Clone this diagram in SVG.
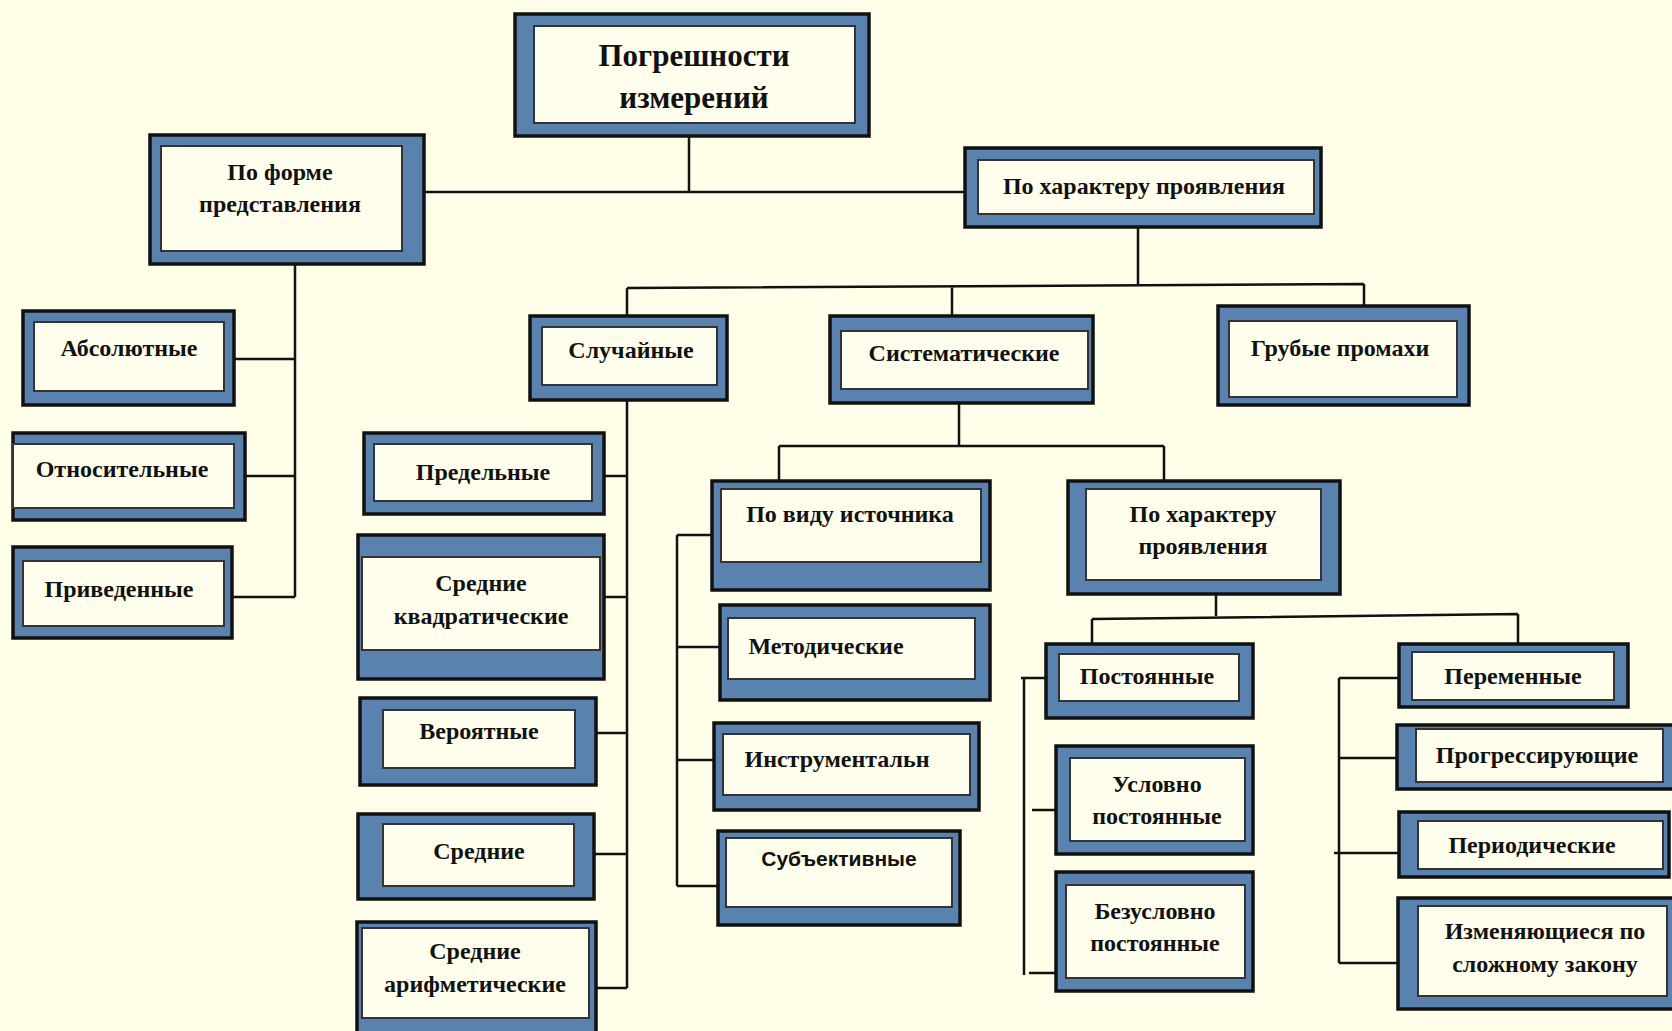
<svg xmlns="http://www.w3.org/2000/svg" width="1672" height="1031" viewBox="0 0 1672 1031">
<style>
.o{fill:#5A82AE;stroke:#111;stroke-width:3.5}
.i{fill:#FFFEEC;stroke:#333;stroke-width:2}
.t{font-family:"Liberation Serif","Times New Roman",serif;font-weight:bold;font-size:24px;fill:#111;text-anchor:middle}
.s{font-family:"Liberation Sans",Arial,sans-serif;font-weight:bold;font-size:21px;fill:#111;text-anchor:middle}
.c{fill:none;stroke:#111;stroke-width:2.5}
</style>
<rect width="1672" height="1031" fill="#FFFEE9"/>
<g id="connectors" class="c">
<path d="M689 136V192M424 192H965"/>
<path d="M1138 227V285M627 288L1364 284M627 288V332M952 286V320M1364 284V320"/>
<path d="M295 264V597M234 359H295M245 476H295M232 597H295"/>
<path d="M627 400V988M604 476H627M604 597H627M596 733H627M594 854H627M596 988H627"/>
<path d="M959 403V446M779 446H1164M779 446V483M1164 446V483"/>
<path d="M677 535V886M677 535H712M677 647H720M677 760H714M677 886H718"/>
<path d="M1216 594V616M1092 619L1518 614M1092 619V644M1518 614V644"/>
<path d="M1024 678V975M1021 678H1059M1032 810H1070M1029 973H1066"/>
<path d="M1339 678V963M1339 678H1412M1339 758H1416M1334 853H1418M1339 963H1418"/>
</g>
<g id="n1"><rect class="o" x="515" y="14" width="354" height="122"/><rect class="i" x="534" y="26" width="321" height="97"/><text class="t" style="font-size:31px" x="694" y="66">Погрешности</text><text class="t" style="font-size:31px" x="694" y="108">измерений</text></g>
<g id="n2"><rect class="o" x="150" y="135" width="274" height="129"/><rect class="i" x="161" y="146" width="241" height="105"/><text class="t" x="280" y="180">По форме</text><text class="t" x="280" y="212">представления</text></g>
<g id="n3"><rect class="o" x="965" y="148" width="356" height="79"/><rect class="i" x="978" y="160" width="336" height="54"/><text class="t" x="1144" y="194">По характеру проявления</text></g>
<g id="n4"><rect class="o" x="23" y="311" width="211" height="94"/><rect class="i" x="34" y="322" width="190" height="69"/><text class="t" x="129" y="356">Абсолютные</text></g>
<g id="n5"><rect class="o" x="13" y="433" width="232" height="87"/><rect class="i" x="13" y="444" width="221" height="64"/><text class="t" x="122" y="477">Относительные</text></g>
<g id="n6"><rect class="o" x="13" y="547" width="219" height="91"/><rect class="i" x="23" y="561" width="201" height="65"/><text class="t" x="119" y="597">Приведенные</text></g>
<g id="n7"><rect class="o" x="530" y="316" width="197" height="84"/><rect class="i" x="542" y="327" width="175" height="58"/><text class="t" x="631" y="358">Случайные</text></g>
<g id="n8"><rect class="o" x="830" y="316" width="263" height="87"/><rect class="i" x="841" y="331" width="247" height="58"/><text class="t" x="964" y="361">Систематические</text></g>
<g id="n9"><rect class="o" x="1218" y="306" width="251" height="99"/><rect class="i" x="1229" y="321" width="228" height="76"/><text class="t" x="1340" y="356">Грубые промахи</text></g>
<g id="n10"><rect class="o" x="364" y="433" width="240" height="81"/><rect class="i" x="374" y="444" width="218" height="57"/><text class="t" x="483" y="480">Предельные</text></g>
<g id="n11"><rect class="o" x="358" y="535" width="246" height="144"/><rect class="i" x="362" y="557" width="238" height="93"/><text class="t" x="481" y="591">Средние</text><text class="t" x="481" y="624">квадратические</text></g>
<g id="n12"><rect class="o" x="360" y="698" width="236" height="87"/><rect class="i" x="383" y="710" width="192" height="58"/><text class="t" x="479" y="739">Вероятные</text></g>
<g id="n13"><rect class="o" x="358" y="814" width="236" height="85"/><rect class="i" x="383" y="824" width="191" height="62"/><text class="t" x="479" y="859">Средние</text></g>
<g id="n14"><rect class="o" x="357" y="922" width="239" height="115"/><rect class="i" x="362" y="928" width="227" height="90"/><text class="t" x="475" y="959">Средние</text><text class="t" x="475" y="992">арифметические</text></g>
<g id="n15"><rect class="o" x="712" y="481" width="278" height="109"/><rect class="i" x="721" y="489" width="260" height="73"/><text class="t" x="850" y="522">По виду источника</text></g>
<g id="n16"><rect class="o" x="720" y="605" width="270" height="95"/><rect class="i" x="728" y="618" width="247" height="61"/><text class="t" x="826" y="654">Методические</text></g>
<g id="n17"><rect class="o" x="714" y="723" width="265" height="87"/><rect class="i" x="723" y="734" width="247" height="61"/><text class="t" x="837" y="767">Инструментальн</text></g>
<g id="n18"><rect class="o" x="718" y="831" width="242" height="94"/><rect class="i" x="726" y="838" width="226" height="69"/><text class="s" x="839" y="866">Субъективные</text></g>
<g id="n19"><rect class="o" x="1068" y="481" width="272" height="113"/><rect class="i" x="1086" y="489" width="235" height="91"/><text class="t" x="1203" y="522">По характеру</text><text class="t" x="1203" y="554">проявления</text></g>
<g id="n20"><rect class="o" x="1046" y="644" width="207" height="74"/><rect class="i" x="1059" y="654" width="180" height="47"/><text class="t" x="1147" y="684">Постоянные</text></g>
<g id="n21"><rect class="o" x="1056" y="746" width="197" height="108"/><rect class="i" x="1070" y="758" width="175" height="83"/><text class="t" x="1157" y="792">Условно</text><text class="t" x="1157" y="824">постоянные</text></g>
<g id="n22"><rect class="o" x="1056" y="872" width="197" height="119"/><rect class="i" x="1066" y="885" width="179" height="93"/><text class="t" x="1155" y="919">Безусловно</text><text class="t" x="1155" y="951">постоянные</text></g>
<g id="n23"><rect class="o" x="1399" y="644" width="229" height="63"/><rect class="i" x="1412" y="652" width="202" height="48"/><text class="t" x="1513" y="684">Переменные</text></g>
<g id="n24"><rect class="o" x="1397" y="725" width="280" height="64"/><rect class="i" x="1416" y="729" width="247" height="53"/><text class="t" x="1537" y="763">Прогрессирующие</text></g>
<g id="n25"><rect class="o" x="1399" y="812" width="270" height="65"/><rect class="i" x="1418" y="821" width="245" height="48"/><text class="t" x="1532" y="853">Периодические</text></g>
<g id="n26"><rect class="o" x="1398" y="898" width="280" height="111"/><rect class="i" x="1418" y="906" width="249" height="90"/><text class="t" x="1545" y="939">Изменяющиеся по</text><text class="t" x="1545" y="972">сложному закону</text></g>
</svg>
